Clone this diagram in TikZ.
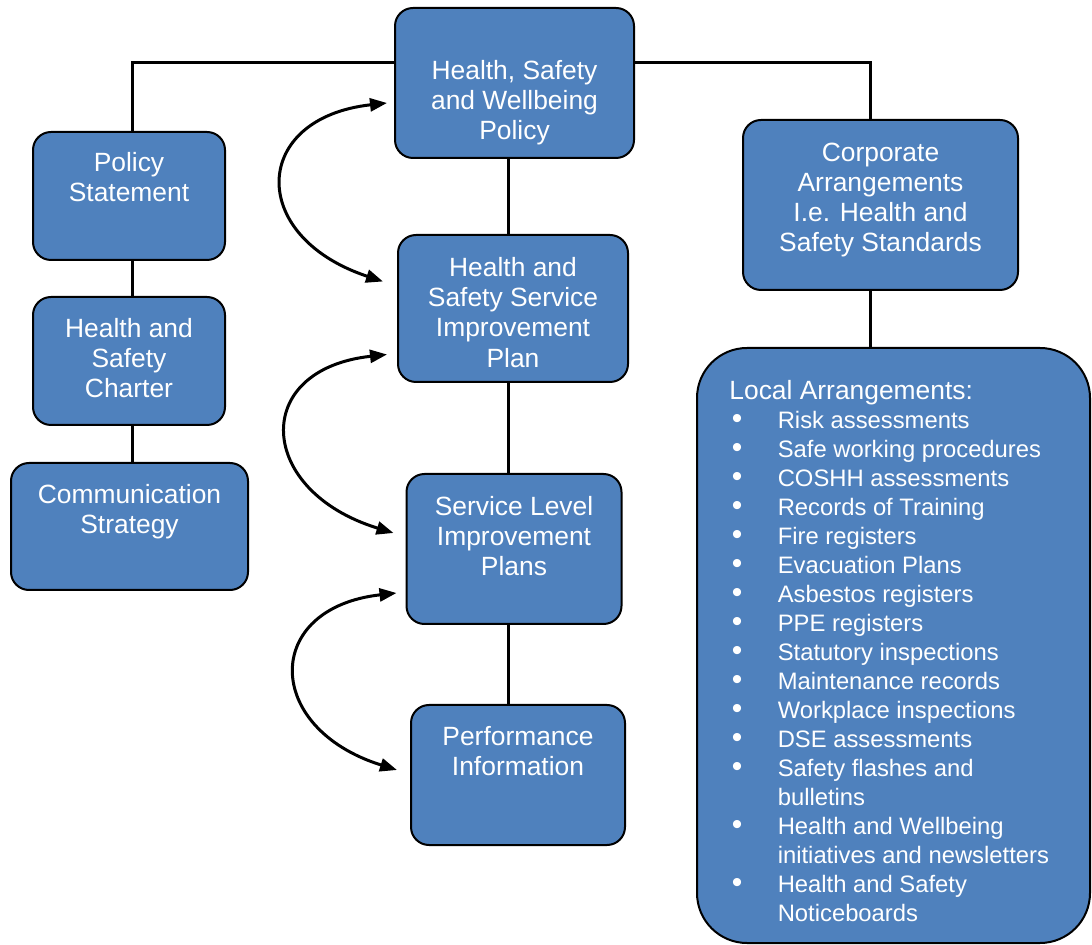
\documentclass[tikz,border=0pt]{standalone}
\usepackage{fontspec}
\setmainfont{Liberation Sans}
\usetikzlibrary{arrows.meta, positioning}

\definecolor{boxblue}{HTML}{4F81BD}
% bullet item of the local list
\newcommand{\lbul}{\makebox[24.2pt][l]{\hspace{1.2pt}{\fontsize{15}{14.5}\selectfont\textbullet}}}

\begin{document}
\begin{tikzpicture}[
          x=0.5pt, y=-0.5pt,
          box/.style={rectangle, draw=black, fill=boxblue, line width=1pt,
                      rounded corners=9pt, inner sep=0pt},
          txt/.style={text=white, align=center, inner sep=0pt, anchor=north,
                      font=\fontsize{13.2}{15.1}\selectfont},
          conn/.style={line width=1.5pt},
          arr/.style={{Triangle[length=8.5pt,width=6.5pt]}-{Triangle[length=8.5pt,width=6.5pt]},
                      line width=1.5pt},
        ]
          \useasboundingbox (0,0) rectangle (1092,945);

          % boxes
          \node[box, minimum width=239*0.5pt, minimum height=150*0.5pt] (hsw)  at (514.5,83)  {};
          \node[box, minimum width=192*0.5pt, minimum height=128*0.5pt] (ps)   at (129,196)   {};
          \node[box, minimum width=192*0.5pt, minimum height=128*0.5pt] (hsc)  at (129,361)   {};
          \node[box, minimum width=237*0.5pt, minimum height=127*0.5pt] (cs)   at (129.5,526.5) {};
          \node[box, minimum width=230*0.5pt, minimum height=147*0.5pt] (ssip) at (513,308.5) {};
          \node[box, minimum width=215*0.5pt, minimum height=150*0.5pt] (slip) at (514,549)   {};
          \node[box, minimum width=214*0.5pt, minimum height=140*0.5pt] (pi)   at (518,775)   {};
          \node[box, minimum width=275*0.5pt, minimum height=170*0.5pt] (ca)   at (880.5,205) {};
          \node[box, rounded corners=25pt,
                minimum width=393*0.5pt, minimum height=595*0.5pt]        (la)   at (893.5,645.5) {};

          % box texts
          \node[txt] (hsw-t)  at (514.5,59.5) {Health, Safety\\and Wellbeing\\Policy};
          \node[txt] (ps-t)   at (129,152)    {Policy\\Statement};
          \node[txt] (hsc-t)  at (129,317.5)  {Health and\\Safety\\Charter};
          \node[txt] (cs-t)   at (129.5,483.5) {Communication\\Strategy};
          \node[txt] (ssip-t) at (513,257)    {Health and\\Safety Service\\Improvement\\Plan};
          \node[txt] (slip-t) at (514,496)    {Service Level\\Improvement\\Plans};
          \node[txt] (pi-t)   at (518,726)    {Performance\\Information};
          \node[txt] (ca-t)   at (880.5,142.5) {Corporate\\Arrangements\\I.e. Health and\\Safety Standards};
          \node[txt, anchor=north west, align=left,
                font=\fontsize{11.9}{14.5}\selectfont] (la-t) at (729,379.5) {%
            {\fontsize{13.2}{14.5}\selectfont Local Arrangements:}\\
            \lbul Risk assessments\\
            \lbul Safe working procedures\\
            \lbul COSHH assessments\\
            \lbul Records of Training\\
            \lbul Fire registers\\
            \lbul Evacuation Plans\\
            \lbul Asbestos registers\\
            \lbul PPE registers\\
            \lbul Statutory inspections\\
            \lbul Maintenance records\\
            \lbul Workplace inspections\\
            \lbul DSE assessments\\
            \lbul Safety flashes and\\
            \hspace*{24.2pt}bulletins\\
            \lbul Health and Wellbeing\\
            \hspace*{24.2pt}initiatives and newsletters\\
            \lbul Health and Safety\\
            \hspace*{24.2pt}Noticeboards};

          % connectors
          \coordinate (tl)  at (132,63);
          \coordinate (tr)  at (870,63);
          \coordinate (mid) at (508,0);

          \draw[conn] (hsw.west |- tl) -| (ps.north -| tl);
          \draw[conn] (hsw.east |- tr) -| (ca.north -| tr);
          \draw[conn] (ps.south -| tl)  -- (hsc.north -| tl);
          \draw[conn] (hsc.south -| tl) -- (cs.north -| tl);
          \draw[conn] (hsw.south -| mid)  -- (ssip.north -| mid);
          \draw[conn] (ssip.south -| mid) -- (slip.north -| mid);
          \draw[conn] (slip.south -| mid) -- (pi.north -| mid);
          \draw[conn] (ca.south -| tr) -- (la.north -| tr);

          % feedback arrows
          \draw[arr] ([shift={(-7,20)}]hsw.west)
                     .. controls +(-136,15) and +(-136,-45) .. ([shift={(-14,-27)}]ssip.west);
          \draw[arr] ([shift={(-10,46)}]ssip.west)
                     .. controls +(-137,15) and +(-137,-42) .. ([shift={(-12,-16)}]slip.west);
          \draw[arr] ([shift={(-9,44)}]slip.west)
                     .. controls +(-134,15) and +(-134,-42) .. ([shift={(-13,-5)}]pi.west);
        \end{tikzpicture}
\end{document}
